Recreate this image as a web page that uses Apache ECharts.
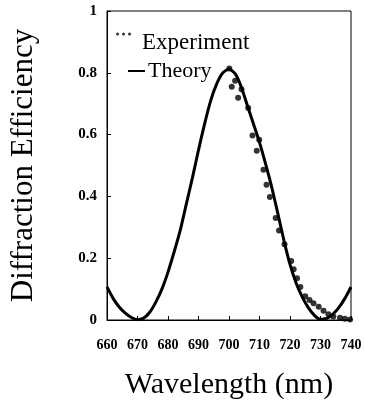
<!DOCTYPE html>
<html><head><meta charset="utf-8">
<script src="https://cdn.jsdelivr.net/npm/echarts@6/dist/echarts.min.js"></script>
<style>html,body{margin:0;padding:0;background:#fff}#c{width:365px;height:408px}</style>
</head><body><div id="c"></div>
<script>
const xTickValues = [660, 670, 680, 690, 700, 710, 720, 730, 740];
const yTickValues = [0, 0.2, 0.4, 0.6, 0.8, 1];
const theoryWavelength = [660,662,664,666,668,670,672,674,676,678,680,682,684,686,688,690,692,694,696,698,700,702,704,706,708,710,712,714,716,718,720,722,724,726,728,730,732,734,736,738,740];
const theoryEfficiency = [0.107,0.07,0.042,0.022,0.008,0.001,0.006,0.025,0.058,0.10,0.155,0.22,0.29,0.375,0.46,0.55,0.635,0.71,0.765,0.80,0.812,0.797,0.755,0.695,0.635,0.575,0.505,0.43,0.345,0.258,0.18,0.12,0.075,0.04,0.015,0.002,0.005,0.018,0.04,0.07,0.107];
const expWavelength = [700.1,702.0,700.9,704.1,703.0,706.3,707.7,709.9,709.1,711.3,712.3,713.4,715.3,716.4,718.2,720.4,721.2,722.3,723.4,725.0,726.4,727.7,729.4,731.0,732.6,734.2,736.4,738.0,739.7];
const expEfficiency = [0.814,0.774,0.755,0.747,0.719,0.686,0.597,0.583,0.548,0.486,0.438,0.398,0.330,0.290,0.245,0.191,0.164,0.135,0.107,0.077,0.065,0.054,0.043,0.030,0.019,0.011,0.007,0.004,0.002];
const seriesNames = ['Experiment', 'Theory'];
const xTitle = 'Wavelength (nm)';
const yTitle = 'Diffraction Efficiency';

const FONT = '"Liberation Serif", "Times New Roman", serif';
const chart = echarts.init(document.getElementById('c'), null, {renderer: 'canvas'});
chart.setOption({
  animation: false,
  backgroundColor: '#fff',
  grid: {left: 105, right: 14, top: 11, bottom: 88, show: true, borderColor: '#000', borderWidth: 1},
  legend: [
    {data: [seriesNames[0]], left: 111, top: 26, orient: 'vertical',
     icon: 'path://M0,1.5a1.5,1.5 0 1,0 3,0a1.5,1.5 0 1,0 -3,0M6,1.5a1.5,1.5 0 1,0 3,0a1.5,1.5 0 1,0 -3,0M12,1.5a1.5,1.5 0 1,0 3,0a1.5,1.5 0 1,0 -3,0M0,20L0.01,20',
     itemWidth: 15, itemHeight: 20, itemGap: 0,
     textStyle: {fontFamily: FONT, fontSize: 23, color: '#000', padding: [0,0,0,6]}},
    {data: [seriesNames[1]], left: 123, top: 55, orient: 'vertical',
     icon: 'rect', itemWidth: 17, itemHeight: 2, itemGap: 0,
     textStyle: {fontFamily: FONT, fontSize: 22, color: '#000', padding: [0,0,0,-2]}}
  ],
  xAxis: {
    type: 'value', min: xTickValues[0], max: xTickValues[xTickValues.length-1], interval: 10,
    name: xTitle, nameLocation: 'middle', nameGap: 50,
    nameTextStyle: {fontFamily: FONT, fontSize: 30, color: '#000'},
    axisLine: {show: true, lineStyle: {color: '#000', width: 1}},
    axisTick: {show: true, inside: true, length: 4, lineStyle: {color: '#000'}},
    axisLabel: {fontFamily: FONT, fontSize: 14, fontWeight: 'bold', color: '#000', margin: 18},
    splitLine: {show: false}
  },
  yAxis: {
    type: 'value', min: yTickValues[0], max: yTickValues[yTickValues.length-1], interval: 0.2,
    name: yTitle, nameLocation: 'middle', nameGap: 68,
    nameTextStyle: {fontFamily: FONT, fontSize: 31, color: '#000'},
    axisLine: {show: true, lineStyle: {color: '#000', width: 1}},
    axisTick: {show: true, inside: true, length: 4, lineStyle: {color: '#000'}},
    axisLabel: {fontFamily: FONT, fontSize: 15, fontWeight: 'bold', color: '#000', margin: 10},
    splitLine: {show: false}
  },
  series: [
    {name: seriesNames[1], type: 'line', data: theoryWavelength.map((w,i)=>[w, theoryEfficiency[i]]),
     showSymbol: false, smooth: 0.2, lineStyle: {color: '#000', width: 3}, itemStyle: {color: '#000'}, z: 2},
    {name: seriesNames[0], type: 'scatter', data: expWavelength.map((w,i)=>[w, expEfficiency[i]]),
     symbolSize: 6, itemStyle: {color: '#000'}, z: 3}
  ]
});
</script>
</body></html>
